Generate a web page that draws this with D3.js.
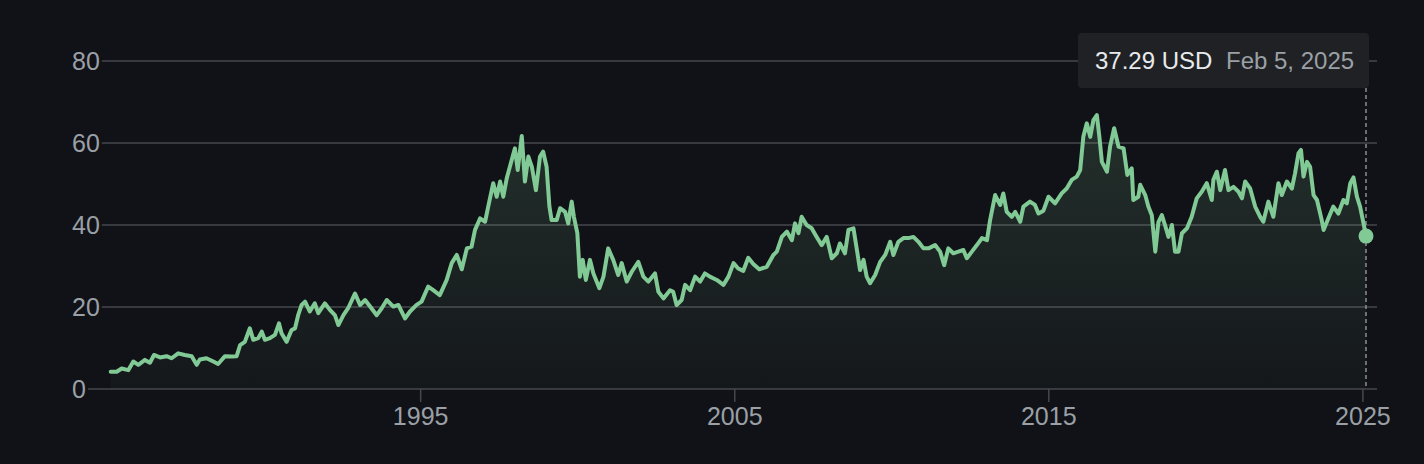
<!DOCTYPE html>
<html>
<head>
<meta charset="utf-8">
<script src="https://cdn.jsdelivr.net/npm/d3@7"></script>
<style>
  html, body { margin: 0; padding: 0; background: #111217; }
  svg { display: block; }
</style>
</head>
<body>
<svg id="chart" width="1424" height="464"></svg>
<script>
// ---- data ----
const years = [
  1985.13,1985.32,1985.48,1985.69,1985.85,1986.01,1986.22,1986.38,1986.51,1986.70,1986.91,1987.07,1987.28,1987.49,1987.71,1987.87,1987.97,1988.18,1988.40,1988.55,1988.77,1988.98,
  1989.14,1989.25,1989.40,1989.56,1989.67,1989.83,1989.94,1990.04,1990.20,1990.36,1990.49,1990.57,1990.73,1990.89,1991.00,1991.10,1991.21,1991.32,1991.47,1991.63,1991.74,1991.95,
  1992.11,1992.27,1992.38,1992.54,1992.69,1992.91,1993.07,1993.23,1993.39,1993.60,1993.76,1993.92,1994.13,1994.29,1994.50,1994.66,1994.87,1995.03,1995.24,1995.40,1995.61,1995.83,1995.99,
  1996.15,1996.31,1996.47,1996.62,1996.73,1996.89,1997.05,1997.15,1997.31,1997.42,1997.53,1997.63,1997.74,1997.84,1998.00,1998.09,1998.22,1998.32,1998.43,1998.54,1998.67,1998.80,1998.90,
  1999.01,1999.10,1999.17,1999.33,1999.44,1999.60,1999.70,1999.81,1999.88,1999.99,2000.07,2000.16,2000.26,2000.39,2000.50,2000.69,2000.82,2000.97,2001.13,2001.29,2001.40,2001.56,2001.72,2001.93,
  2002.09,2002.25,2002.46,2002.57,2002.73,2002.94,2003.04,2003.15,2003.31,2003.42,2003.58,2003.74,2003.90,2004.05,2004.21,2004.43,2004.64,2004.80,2004.96,2005.11,2005.27,2005.43,2005.59,2005.78,
  2006.02,2006.23,2006.34,2006.50,2006.66,2006.82,2006.92,2007.03,2007.13,2007.29,2007.45,2007.61,2007.77,2007.93,2008.09,2008.25,2008.35,2008.51,2008.62,2008.78,2008.89,2008.99,
  2009.10,2009.20,2009.31,2009.47,2009.63,2009.79,2009.95,2010.05,2010.21,2010.37,2010.53,2010.69,2010.85,2011.01,2011.17,2011.38,2011.54,2011.67,2011.80,2011.96,
  2012.12,2012.28,2012.39,2012.55,2012.71,2012.87,2013.03,2013.13,2013.29,2013.45,2013.55,2013.66,2013.82,2013.93,2014.09,2014.19,2014.40,2014.56,2014.67,2014.83,2014.99,
  2015.20,2015.41,2015.57,2015.73,2015.89,2016.00,2016.10,2016.21,2016.32,2016.42,2016.53,2016.61,2016.69,2016.85,2016.95,2017.08,2017.22,2017.38,2017.50,2017.64,2017.69,2017.85,2017.91,
  2018.07,2018.17,2018.28,2018.39,2018.49,2018.60,2018.70,2018.81,2018.92,2019.02,2019.13,2019.24,2019.40,2019.55,2019.71,2019.87,2020.03,2020.19,2020.24,2020.35,2020.46,2020.61,2020.72,2020.88,
  2021.04,2021.15,2021.25,2021.41,2021.57,2021.73,2021.83,2021.99,2022.15,2022.31,2022.42,2022.58,2022.74,2022.84,2022.95,2023.03,2023.11,2023.22,2023.32,2023.43,2023.54,2023.69,2023.75,2023.90,
  2024.06,2024.22,2024.38,2024.49,2024.60,2024.70,2024.81,2024.91,2025.02,2025.0986
];
const prices = [
  4.2,4.2,5.0,4.6,6.7,5.9,7.1,6.4,8.3,7.7,8.0,7.5,8.7,8.3,8.0,5.9,7.2,7.5,6.7,6.1,8.0,7.9,
  8.0,10.7,11.5,14.8,12.0,12.4,14.0,12.0,12.4,13.2,16.0,13.6,11.5,14.4,14.8,18.0,20.5,21.3,18.9,20.9,18.5,20.9,
  19.3,18.0,15.6,18.0,19.7,23.3,20.5,21.7,20.1,18.0,19.7,21.7,20.1,20.5,17.2,18.9,20.5,21.3,25.0,24.1,22.9,26.6,30.7,
  32.7,29.2,34.3,34.7,38.8,41.6,40.8,44.5,50.2,46.9,50.6,46.9,51.4,54.2,58.7,53.4,61.7,50.6,56.7,54.2,48.5,56.7,57.9,
  54.2,44.5,41.2,41.2,44.1,43.2,40.4,45.7,42.0,38.0,27.4,31.5,26.6,31.5,28.2,24.6,27.4,34.3,31.5,27.8,30.7,26.2,28.6,31.0,
  27.4,26.2,28.2,23.7,22.1,24.1,23.7,20.5,21.7,25.4,24.1,27.4,26.2,28.2,27.4,26.6,25.4,27.4,30.7,29.4,28.8,32.0,30.5,29.2,
  29.8,32.7,33.5,37.1,38.4,36.3,40.4,38.0,42.0,40.0,39.2,37.1,35.1,37.1,31.9,33.1,35.5,33.1,38.8,39.2,33.9,29.0,
  31.5,27.4,25.8,27.8,31.0,32.7,35.9,32.7,35.9,36.8,36.8,37.1,35.9,34.3,34.3,35.1,33.5,30.2,34.3,33.1,
  33.5,33.9,31.9,33.5,35.1,36.8,36.3,41.2,47.3,44.9,47.7,43.2,42.0,43.2,40.8,44.5,45.7,44.9,42.8,43.5,46.9,
  45.3,47.7,48.9,51.0,51.8,53.4,61.5,64.8,61.5,65.6,66.8,61.5,55.4,53.0,59.1,63.6,59.1,58.7,52.2,53.8,46.1,46.9,49.8,
  47.3,44.5,42.4,33.5,40.7,42.4,40.0,37.1,40.0,33.5,33.5,38.0,39.2,42.0,46.5,48.1,50.2,46.1,51.0,53.0,48.5,53.4,48.5,49.3,
  48.1,46.5,50.6,48.9,44.5,42.0,40.8,45.7,42.0,50.2,47.3,50.6,48.9,52.6,57.5,58.3,51.8,55.4,54.2,47.3,46.1,41.2,38.8,41.6,
  44.5,42.8,46.1,45.3,50.2,51.6,46.9,44.5,40.4,37.29
];
const yTicks = [0, 20, 40, 60, 80];
const xTickYears = [1995, 2005, 2015, 2025];
const tooltipValue = "37.29 USD";
const tooltipDate = "Feb 5, 2025";

// ---- helpers ----
function yearToDate(y) {
  const yr = Math.floor(y);
  const start = new Date(yr, 0, 1).getTime();
  const end = new Date(yr + 1, 0, 1).getTime();
  return new Date(start + (y - yr) * (end - start));
}
const data = years.map((y, i) => ({ date: yearToDate(y), value: prices[i] }));

// ---- layout ----
const svg = d3.select("#chart");
const W = 1424, H = 464;
const plotLeft = 110.7, plotRight = 1366;
const gridRight = 1377;

const x = d3.scaleTime()
  .domain([data[0].date, data[data.length - 1].date])
  .range([plotLeft, plotRight]);
const y = d3.scaleLinear().domain([0, 80]).range([389, 61]);

svg.append("rect").attr("width", W).attr("height", H).attr("fill", "#111217");

const font = "'Liberation Sans', Arial, Helvetica, sans-serif";

// gradient
const defs = svg.append("defs");
const grad = defs.append("linearGradient")
  .attr("id", "areaGrad")
  .attr("gradientUnits", "userSpaceOnUse")
  .attr("x1", 0).attr("x2", 0)
  .attr("y1", y(68)).attr("y2", y(0));
grad.append("stop").attr("offset", "0%").attr("stop-color", "#81c995").attr("stop-opacity", 0.17);
grad.append("stop").attr("offset", "100%").attr("stop-color", "#81c995").attr("stop-opacity", 0.03);

// y labels + gridlines
const yg = svg.append("g");
yTicks.forEach(t => {
  const txt = yg.append("text")
    .attr("x", 72)
    .attr("y", y(t) + 9)
    .attr("fill", "#9aa0a6")
    .attr("font-family", font)
    .attr("font-size", 25)
    .text(t);
  const w = txt.node().getComputedTextLength();
  yg.append("line")
    .attr("x1", 72 + w + 2).attr("x2", gridRight)
    .attr("y1", y(t)).attr("y2", y(t))
    .attr("stroke", "#46474c").attr("stroke-width", 1.5);
});

// x ticks + labels
const xg = svg.append("g");
xTickYears.forEach(yr => {
  const px = x(new Date(yr, 0, 1));
  xg.append("line")
    .attr("x1", px).attr("x2", px)
    .attr("y1", y(0)).attr("y2", y(0) + 13)
    .attr("stroke", "#46474c").attr("stroke-width", 1.5);
  xg.append("text")
    .attr("x", px).attr("y", 425)
    .attr("text-anchor", "middle")
    .attr("fill", "#9aa0a6")
    .attr("font-family", font)
    .attr("font-size", 25)
    .text(yr);
});

// area + line
const area = d3.area().x(d => x(d.date)).y0(y(0)).y1(d => y(d.value));
const line = d3.line().x(d => x(d.date)).y(d => y(d.value));

svg.append("path").datum(data).attr("d", area).attr("fill", "url(#areaGrad)");

// hover dashed line
const last = data[data.length - 1];
svg.append("line")
  .attr("x1", x(last.date)).attr("x2", x(last.date))
  .attr("y1", 88).attr("y2", y(0) - 3)
  .attr("stroke", "#8a8d93").attr("stroke-width", 1.5)
  .attr("stroke-dasharray", "4,3");

svg.append("path").datum(data).attr("d", line)
  .attr("fill", "none")
  .attr("stroke", "#81c995")
  .attr("stroke-width", 4)
  .attr("stroke-linejoin", "round")
  .attr("stroke-linecap", "round");

svg.append("circle")
  .attr("cx", x(last.date)).attr("cy", y(last.value))
  .attr("r", 7.5).attr("fill", "#81c995");

// tooltip
const tip = svg.append("g");
tip.append("rect")
  .attr("x", 1078).attr("y", 33).attr("width", 291).attr("height", 55)
  .attr("rx", 4).attr("fill", "#202124");
tip.append("text")
  .attr("x", 1095).attr("y", 69)
  .attr("fill", "#e8eaed")
  .attr("font-family", font).attr("font-size", 24)
  .text(tooltipValue);
tip.append("text")
  .attr("x", 1226).attr("y", 69)
  .attr("fill", "#9aa0a6")
  .attr("font-family", font).attr("font-size", 24)
  .text(tooltipDate);
</script>
</body>
</html>
